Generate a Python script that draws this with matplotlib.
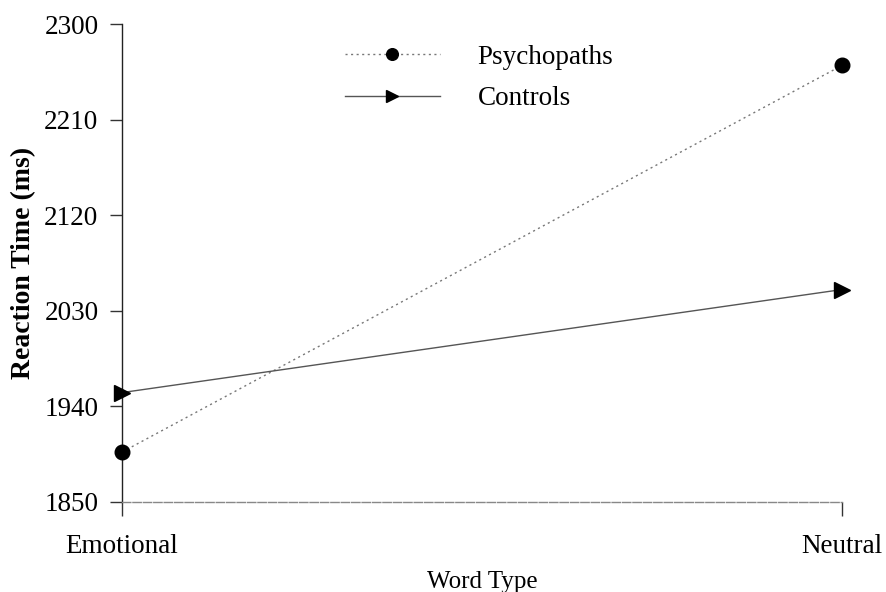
import matplotlib
matplotlib.use("Agg")
import matplotlib.pyplot as plt

categories = ["Emotional", "Neutral"]
psychopaths = [1897, 2261]
controls = [1953, 2050]
yticks = [1850, 1940, 2030, 2120, 2210, 2300]

plt.rcParams['font.family'] = ['Liberation Serif', 'DejaVu Serif']

fig = plt.figure(figsize=(8.86, 5.92), dpi=100)
ax = fig.add_axes([122/886, 1-502/592, 720/886, 478/592])

x = list(range(len(categories)))
ax.plot(x, psychopaths, color='#777777', linestyle=(0, (1.5, 2.5)), linewidth=1.0,
        marker='o', markersize=10.5, markerfacecolor='black', markeredgecolor='black',
        clip_on=False, label='Psychopaths', zorder=3)
ax.plot(x, controls, color='#555555', linestyle='-', linewidth=1.0,
        marker='>', markersize=11, markerfacecolor='black', markeredgecolor='black',
        clip_on=False, label='Controls', zorder=3)

ax.set_xlim(0, 1)
ax.set_ylim(1850, 2300)
ax.set_xticks(x)
ax.set_xticklabels(categories, fontsize=19.5)
ax.set_yticks(yticks)
ax.set_yticklabels([str(v) for v in yticks], fontsize=19.5)

ax.spines['top'].set_visible(False)
ax.spines['right'].set_visible(False)
ax.spines['left'].set_color('#222222')
ax.spines['left'].set_linewidth(1.0)
ax.spines['bottom'].set_color('#888888')
ax.spines['bottom'].set_linestyle((0, (6, 1.5)))
ax.spines['bottom'].set_linewidth(1.0)

ax.tick_params(axis='y', direction='out', length=9, width=1.0, color='#333333', pad=8)
ax.tick_params(axis='x', direction='out', length=10, width=1.0, color='#333333', pad=13)

ax.set_xlabel("Word Type", fontsize=18, labelpad=9)
ax.set_ylabel("Reaction Time (ms)", fontsize=20, fontweight='bold', labelpad=6)

leg = ax.legend(loc='upper left', bbox_to_anchor=((326-122)/720, (502-26)/478),
                frameon=False, fontsize=19.5, handlelength=3.5, handletextpad=1.4,
                labelspacing=0.6, markerscale=0.8, borderpad=0.2)

fig.savefig("out.png", dpi=100, facecolor='white')
